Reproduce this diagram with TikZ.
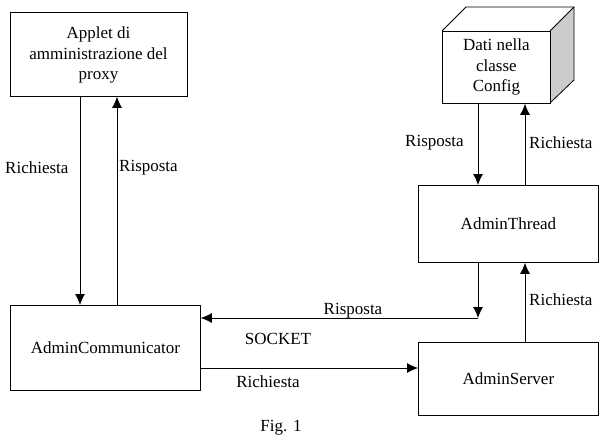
\documentclass[tikz,border=0pt]{standalone}
\usepackage{fontspec}
\setmainfont{Liberation Serif}
\usetikzlibrary{arrows.meta}
\begin{document}
\begin{tikzpicture}[x=1pt,y=-1pt,
  every node/.style={font=\fontsize{17}{20.5}\selectfont},
  box/.style={draw,line width=0.8pt,inner sep=0pt},
  arr/.style={-{Latex[length=11pt,width=10pt]},line width=0.8pt},
  lab/.style={inner sep=1pt}]
\useasboundingbox (0,0) rectangle (613,444);
% boxes
\node[box,minimum width=177pt,minimum height=84pt,anchor=north west] (applet) at (10,12) {};
\node[align=center,anchor=north,inner sep=0pt] at (98.5,27) {Applet di\\amministrazione del\\proxy};
\node[box,minimum width=190pt,minimum height=85pt,anchor=north west] (comm) at (10,305) {AdminCommunicator};
\node[box,minimum width=180pt,minimum height=77pt,anchor=north west] (thread) at (418,185) {AdminThread};
\node[box,minimum width=180pt,minimum height=73pt,anchor=north west] (server) at (418,342) {AdminServer};
% cube
\fill[gray!40] (550,31) -- (574,7) -- (574,80) -- (550,103) -- cycle;
\draw[line width=0.8pt] (442,31) -- (466,7) -- (574,7) -- (574,80) -- (550,103);
\draw[line width=0.8pt] (550,31) -- (574,7);
\node[box,minimum width=108pt,minimum height=72pt,anchor=north west,align=center,fill=white] (cfg) at (442,31) {Dati nella\\classe\\Config};
% connectors
\draw[arr] (applet.south -| 80,0) -- (comm.north -| 80,0);
\draw[arr] (comm.north -| 117,0) -- (applet.south -| 117,0);
\node[lab,anchor=west] at (4,168) {Richiesta};
\node[lab,anchor=west] at (118,168) {Risposta};
\draw[arr] (cfg.south -| 478,0) -- (thread.north -| 478,0);
\draw[arr] (thread.north -| 525,0) -- (cfg.south -| 525,0);
\node[lab,anchor=west] at (404,143) {Risposta};
\node[lab,anchor=west] at (528,143) {Richiesta};
\coordinate (c1) at (478,318);
\draw[arr] (thread.south -| 478,0) -- (c1);
\draw[arr] (c1) -- (comm.east |- 0,318);
\node[lab] at (353,311) {Risposta};
\node[lab] at (278,339) {SOCKET};
\draw[arr] (comm.east |- 0,368) -- (server.west |- 0,368);
\node[lab] at (268,382) {Richiesta};
\draw[arr] (server.north -| 525,0) -- (thread.south -| 525,0);
\node[lab,anchor=west] at (528,300) {Richiesta};
\node (fig) at (281,428) {Fig. 1};
\end{tikzpicture}
\end{document}
